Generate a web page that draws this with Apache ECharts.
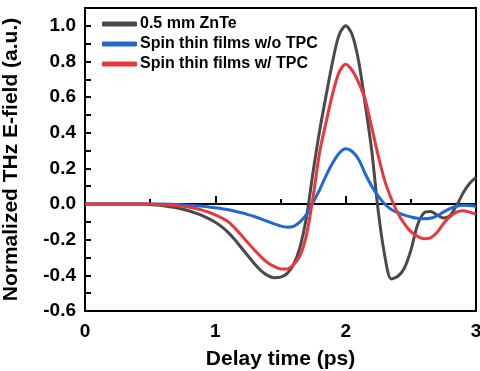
<!DOCTYPE html>
<html><head><meta charset="utf-8">
<script src="https://cdn.jsdelivr.net/npm/echarts@6/dist/echarts.min.js"></script>
<style>html,body{margin:0;padding:0;background:#fff}#c{width:480px;height:371px}</style>
</head><body><div id="c"></div>
<script>
const delayTime = [0,0.05,0.1,0.15,0.2,0.25,0.3,0.35,0.4,0.45,0.5,0.55,0.6,0.65,0.7,0.75,0.8,0.85,0.9,0.95,1.0,1.05,1.1,1.15,1.2,1.25,1.3,1.35,1.4,1.45,1.5,1.55,1.6,1.65,1.7,1.75,1.8,1.85,1.9,1.95,2.0,2.05,2.1,2.15,2.2,2.25,2.3,2.35,2.4,2.45,2.5,2.55,2.6,2.65,2.7,2.75,2.8,2.85,2.9,2.95,3.0];
const znte = [0,0,0,0,0,0,0,0,0,0,-0.003,-0.006,-0.01,-0.015,-0.021,-0.029,-0.039,-0.051,-0.065,-0.082,-0.102,-0.128,-0.16,-0.2,-0.245,-0.29,-0.335,-0.373,-0.4,-0.413,-0.41,-0.39,-0.34,-0.24,-0.07,0.18,0.41,0.61,0.8,0.95,1.0,0.95,0.8,0.56,0.3,-0.04,-0.29,-0.42,-0.405,-0.36,-0.26,-0.12,-0.05,-0.042,-0.06,-0.078,-0.065,-0.01,0.06,0.115,0.15];
const withoutTPC = [0,0,0,0,0,0,0,0,0,0,0,0,0,-0.001,-0.002,-0.004,-0.006,-0.009,-0.012,-0.016,-0.021,-0.026,-0.032,-0.04,-0.049,-0.059,-0.07,-0.083,-0.097,-0.111,-0.123,-0.13,-0.125,-0.1,-0.058,0.01,0.08,0.16,0.23,0.285,0.31,0.295,0.25,0.17,0.1,0.045,0.0,-0.03,-0.048,-0.062,-0.072,-0.08,-0.083,-0.08,-0.066,-0.045,-0.025,-0.012,-0.007,-0.008,-0.012];
const withTPC = [0,0,0,0,0,0,0,0,0,0,0,-0.002,-0.004,-0.006,-0.009,-0.013,-0.018,-0.025,-0.034,-0.046,-0.06,-0.078,-0.1,-0.135,-0.175,-0.217,-0.258,-0.296,-0.328,-0.35,-0.364,-0.365,-0.34,-0.29,-0.17,0.04,0.29,0.46,0.62,0.74,0.785,0.75,0.68,0.585,0.43,0.27,0.13,0.03,-0.05,-0.11,-0.155,-0.18,-0.195,-0.19,-0.16,-0.11,-0.07,-0.045,-0.037,-0.045,-0.056];
const seriesNames = ['0.5 mm ZnTe','Spin thin films w/o TPC','Spin thin films w/ TPC'];
const colors = ['#4a4a4a','#1f68d6','#e8383d'];
const xTicks = [0,1,2,3];
const yTicks = [-0.6,-0.4,-0.2,0.0,0.2,0.4,0.6,0.8,1.0];

const zip = a => delayTime.map((t,i)=>[t,a[i]]);
const font = '"Liberation Sans", Arial, sans-serif';
const chart = echarts.init(document.getElementById('c'), null, {renderer:'canvas'});
const mkSeries = (name, data, color) => ({
  name, type:'line', data: zip(data), smooth: 0.3, showSymbol:false, symbol:'none',
  lineStyle:{color, width:3}, itemStyle:{color}, z: 3
});
chart.setOption({
  animation:false,
  grid:{left:85, right:4, top:8, bottom:60, containLabel:false, outerBoundsMode:'none',
    show:true, borderColor:'#000', borderWidth:2, backgroundColor:'transparent'},
  legend:{
    orient:'vertical', left:102, top:16, itemWidth:35, itemHeight:5, itemGap:4, padding:0,
    icon:'roundRect',
    data: seriesNames,
    textStyle:{fontFamily:font, fontWeight:'bold', fontSize:16, color:'#000', lineHeight:16, padding:[0,0,0,-2]}
  },
  xAxis:{
    type:'value', min:0, max:3, interval:1,
    name:'Delay time (ps)', nameLocation:'middle', nameGap:38,
    nameTextStyle:{fontFamily:font, fontWeight:'bold', fontSize:21, color:'#000'},
    axisLine:{show:true, lineStyle:{color:'#000', width:2}},
    axisTick:{show:true, inside:true, length:8, lineStyle:{color:'#000', width:2}},
    minorTick:{show:true, splitNumber:2, length:5, lineStyle:{color:'#000', width:2}},
    splitLine:{show:false},
    axisLabel:{fontFamily:font, fontWeight:'bold', fontSize:19, color:'#000', margin:11,
      formatter: v => xTicks.includes(v) ? String(v) : ''}
  },
  yAxis:{
    type:'value', min:-0.6, max:1.1, interval:0.2,
    name:'Normalized THz E-field (a.u.)', nameLocation:'middle', nameGap:63,
    nameTextStyle:{fontFamily:font, fontWeight:'bold', fontSize:21, color:'#000'},
    axisLine:{show:true, lineStyle:{color:'#000', width:2}},
    axisTick:{show:true, inside:true, length:6, lineStyle:{color:'#000', width:2}},
    minorTick:{show:true, splitNumber:2, length:6, lineStyle:{color:'#000', width:2}},
    splitLine:{show:false},
    axisLabel:{fontFamily:font, fontWeight:'bold', fontSize:19, color:'#000', margin:9, showMaxLabel:false,
      formatter: v => { const m = yTicks.find(t => Math.abs(t - v) < 1e-6); return m === undefined ? '' : m.toFixed(1); }}
  },
  series:[
    mkSeries(seriesNames[0], znte, colors[0]),
    mkSeries(seriesNames[1], withoutTPC, colors[1]),
    mkSeries(seriesNames[2], withTPC, colors[2])
  ]
});
</script></body></html>
